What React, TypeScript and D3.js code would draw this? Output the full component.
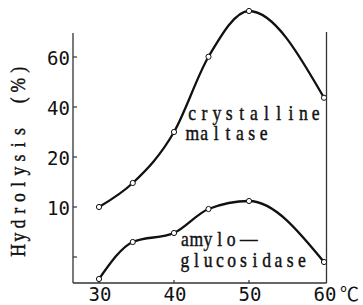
import { line, curveMonotoneX, scaleLinear } from "d3";

// temperature (°C) and % hydrolysis
const temps = [30, 34.5, 40, 44.6, 50, 60];
const maltase = [10, 14.8, 30, 60.1, 78.4, 43.7];
const amylo = [2.8, 6.5, 7.4, 9.8, 11.2, 4.5];

// y axis is not linear in the original, so the scale is piecewise
const yTicks = [5, 10, 20, 40, 60];
const yTickLabels = ["", "10", "20", "40", "60"];
const xTicks = [30, 40, 50, 60];
const xTickLabels = ["30", "40", "50", "60"];

const INK = "#111";
const digits = { fontFamily: "'DejaVu Sans Mono', monospace" };
const serif = { fontFamily: "'Liberation Serif', 'DejaVu Serif', serif" };

// typewriter look: serif glyphs squeezed and set on a fixed pitch
function TypeText({
  text,
  x,
  y,
  pitch,
  rotate = 0,
  size = 22,
  squeeze = 0.8,
  extra = {}
}: {
  text: string;
  x: number;
  y: number;
  pitch: number;
  rotate?: number;
  size?: number;
  squeeze?: number;
  extra?: Record<number, number>;
}) {
  const chars = [...text];
  const xs = chars.map((_, i) => (pitch * (i + 0.5) + (extra[i] ?? 0)) / squeeze);
  return (
    <text
      transform={`translate(${x},${y}) rotate(${rotate}) scale(${squeeze},1)`}
      x={xs.join(" ")}
      y={0}
      textAnchor="middle"
      style={serif}
      fontSize={size}
      fill={INK}
      stroke={INK}
      strokeWidth={0.45}
    >
      {text}
    </text>
  );
}

export default function App() {
  const width = 363;
  const height = 305;
  const left = 73;
  const right = 326.5;
  const top = 33;
  const bottom = 283;

  const x = scaleLinear().domain([30, 60]).range([99, 324]);
  const y = scaleLinear().domain(yTicks).range([257, 207, 157, 107, 57]);

  const path = line<number>()
    .x((_, i) => x(temps[i]))
    .y((d) => y(d))
    .curve(curveMonotoneX);

  const series = [maltase, amylo];

  return (
    <div style={{ position: "absolute", left: 0, top: 0 }}>
      <svg width={width} height={height} viewBox={`0 0 ${width} ${height}`} style={{ display: "block", background: "#fff" }}>
        {/* frame */}
        <line x1={left} x2={left} y1={top} y2={bottom} stroke="#333" strokeWidth={1.3} />
        <line x1={left} x2={right} y1={bottom} y2={bottom} stroke="#333" strokeWidth={1.3} />
        <line x1={right} x2={right} y1={32} y2={bottom} stroke="#333" strokeWidth={1.3} />

        {yTicks.map((t, i) => (
          <g key={t}>
            <line x1={left} x2={left + 4} y1={y(t)} y2={y(t)} stroke="#333" strokeWidth={1.2} />
            <text x={70} y={y(t) + 8} textAnchor="end" style={digits} fontSize={19} fill={INK}>
              {yTickLabels[i]}
            </text>
          </g>
        ))}

        {xTicks.map((t, i) => (
          <g key={t}>
            {t < 60 ? (
              <line x1={x(t)} x2={x(t)} y1={bottom} y2={bottom - 3} stroke="#333" strokeWidth={1.2} />
            ) : null}
            <text x={x(t) + 1} y={301} textAnchor="middle" style={digits} fontSize={19} fill={INK}>
              {xTickLabels[i]}
            </text>
          </g>
        ))}
        <text x={340} y={301} style={{ fontFamily: "'Noto Sans CJK JP', sans-serif" }} fontSize={19} fill={INK}>
          ℃
        </text>

        {/* y axis title */}
        <TypeText text="Hydrolysis" x={25} y={257} pitch={13.2} rotate={-90} />
        <TypeText text="(%)" x={25} y={108} pitch={15.3} rotate={-90} />

        {series.map((values, s) => (
          <g key={s}>
            <path d={path(values) ?? ""} fill="none" stroke={INK} strokeWidth={2.3} />
            {values.map((v, i) => (
              <circle key={i} cx={x(temps[i])} cy={y(v)} r={2.6} fill="#fff" stroke={INK} strokeWidth={1} />
            ))}
          </g>
        ))}

        {/* curve labels */}
        <TypeText text="crystalline" x={186} y={120} pitch={12.36} />
        <TypeText text="maltase" x={186.5} y={140} pitch={11.86} />
        <TypeText text="amylo—" x={179} y={246} pitch={11.6} extra={{ 5: 6 }} />
        <TypeText text="glucosidase" x={179} y={267} pitch={11.7} />
      </svg>
    </div>
  );
}
